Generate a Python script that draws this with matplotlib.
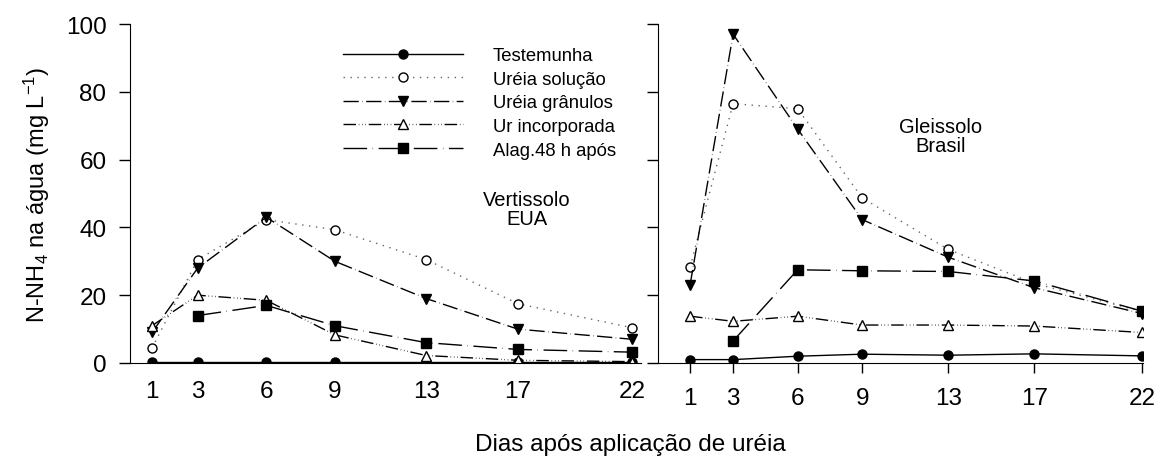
import numpy as np
import matplotlib.pyplot as plt

plt.rcParams["font.family"] = ["Liberation Sans", "DejaVu Sans"]
plt.rcParams["mathtext.fontset"] = "custom"
plt.rcParams["mathtext.rm"] = "Liberation Sans"
plt.rcParams["mathtext.it"] = "Liberation Sans:italic"

# dias após aplicação
dias = [1, 3, 6, 9, 13, 17, 22]
dias_alag = [3, 6, 9, 13, 17, 22]

# Vertissolo (EUA)
v_testemunha = [0.2, 0.2, 0.2, 0.2, 0.2, 0.2, 0.2]
v_solucao = [4.4, 30.5, 42.3, 39.3, 30.5, 17.5, 10.4]
v_granulos = [9.0, 28.0, 43.0, 30.0, 19.0, 10.0, 7.0]
v_incorporada = [11.0, 20.0, 18.5, 8.3, 2.2, 0.8, 0.4]
v_alag = [14.0, 17.0, 11.0, 6.0, 4.0, 3.2]

# Gleissolo (Brasil)
g_testemunha = [1.0, 1.0, 2.0, 2.6, 2.3, 2.7, 2.1]
g_solucao = [28.3, 76.5, 75.0, 48.7, 33.5, 23.5, 15.2]
g_granulos = [23.0, 97.0, 69.0, 42.3, 31.2, 22.2, 14.6]
g_incorporada = [13.8, 12.3, 13.8, 11.2, 11.2, 10.9, 9.0]
g_alag = [6.5, 27.5, 27.2, 27.0, 24.2, 15.3]

nomes = ["Testemunha", "Uréia solução", "Uréia grânulos", "Ur incorporada",
         "Alag.48 h após"]

estilos = [
    dict(ls="-", marker="o", mfc="black", ms=6.5, color="black"),
    dict(ls=(0, (1, 4)), marker="o", mfc="white", ms=6.5, color="0.4"),
    dict(ls=(0, (11, 2.5, 0.3, 2.5)), marker="v", mfc="black", ms=7.5, color="black"),
    dict(ls=(0, (9, 2, 0.4, 2, 0.4, 2, 0.4, 2)), marker="^", mfc="white", ms=7.5,
         color="black"),
    dict(ls=(0, (17, 4, 0.3, 4)), marker="s", mfc="black", ms=6.5, color="black"),
]

W, H = 1155, 460
fig = plt.figure(figsize=(W / 100, H / 100), dpi=100)
ax1 = fig.add_axes([130 / W, 1 - 364 / H, 511 / W, 339 / H])
ax2 = fig.add_axes([658 / W, 1 - 364 / H, 485 / W, 339 / H])


def desenha(ax, series):
    handles = []
    for (x, y), st in zip(series, estilos):
        h, = ax.plot(x, y, linestyle=st["ls"], color=st["color"], lw=1.0,
                     marker=st["marker"], ms=st["ms"], mfc=st["mfc"],
                     mec="black", mew=1.0)
        handles.append(h)
    ax.set_ylim(0, 100)
    ax.set_yticks([0, 20, 40, 60, 80, 100])
    ax.set_xticks(dias)
    ax.spines["top"].set_visible(False)
    ax.spines["right"].set_visible(False)
    ax.tick_params(axis="y", direction="out", length=8, width=1, labelsize=17.5,
                   pad=9)
    ax.tick_params(axis="x", labelsize=17.5)
    return handles


hs = desenha(ax1, [(dias, v_testemunha), (dias, v_solucao), (dias, v_granulos),
                   (dias, v_incorporada), (dias_alag, v_alag)])
desenha(ax2, [(dias, g_testemunha), (dias, g_solucao), (dias, g_granulos),
              (dias, g_incorporada), (dias_alag, g_alag)])

ax1.set_xlim(0.04, 22.39)
ax1.tick_params(axis="x", length=0, pad=12)
ax2.set_xlim(-0.49, 22.05)
ax2.tick_params(axis="x", direction="out", length=7, width=1, pad=10)
ax2.set_yticklabels([])

ax1.set_ylabel(r"N-NH$_4$ na água (mg L$^{-1}$)", fontsize=17, labelpad=10)

# rótulos dos solos (coordenadas em pixels)
fig.text(527 / W, 1 - 210 / H, "Vertissolo\nEUA", fontsize=14.5,
         ha="center", va="center", linespacing=1.0)
fig.text(941 / W, 1 - 137 / H, "Gleissolo\nBrasil", fontsize=14.5,
         ha="center", va="center", linespacing=1.0)

fig.text(630 / W, 1 - 445 / H, "Dias após aplicação de uréia", fontsize=17.5,
         ha="center", va="center")

ax1.legend(hs, nomes, loc="upper left", frameon=False, fontsize=13.3,
           handlelength=6.5, handletextpad=1.6, labelspacing=0.36,
           numpoints=1, borderpad=0, borderaxespad=0,
           bbox_to_anchor=(343 / W, 1 - 48 / H),
           bbox_transform=fig.transFigure)

fig.savefig("out.png", dpi=100)
